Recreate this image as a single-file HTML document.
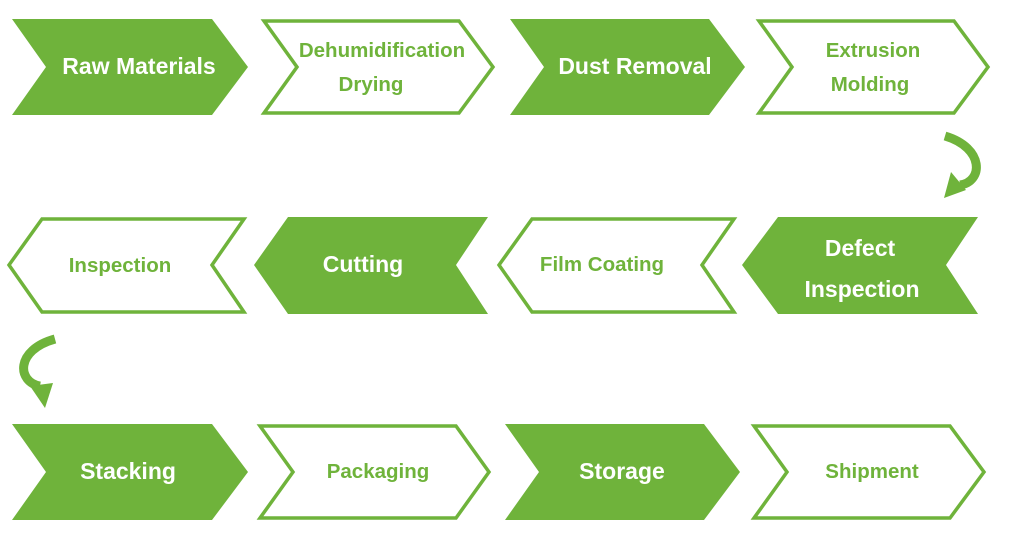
<!DOCTYPE html>
<html><head><style>
html,body{margin:0;padding:0;background:#fff;width:1024px;height:539px;overflow:hidden}
text{font-family:"Liberation Sans",sans-serif;font-weight:bold;text-anchor:middle}
.f{fill:#6fb33b}
.o{fill:#fff;stroke:#6fb33b;stroke-width:3.5}
.tw{fill:#fff;font-size:23px}
.tg{fill:#6fb33b;font-size:20.5px}
</style></head><body>
<svg width="1024" height="539" viewBox="0 0 1024 539" xmlns="http://www.w3.org/2000/svg">
<!-- Row 1 -->
<polygon class="f" points="12,19 212,19 248,67 212,115 12,115 46,67"/>
<polygon class="o" points="264,21 459,21 493,67 459,113 264,113 297,67"/>
<polygon class="f" points="510,19 709,19 745,67 709,115 510,115 544,67"/>
<polygon class="o" points="759,21 954,21 988,67 954,113 759,113 792,67"/>
<text class="tw" x="139" y="74">Raw Materials</text>
<text class="tg" x="382" y="57">Dehumidification</text>
<text class="tg" x="371" y="91">Drying</text>
<text class="tw" x="635" y="74">Dust Removal</text>
<text class="tg" x="873" y="57">Extrusion</text>
<text class="tg" x="870" y="91">Molding</text>
<!-- Row 2 -->
<polygon class="o" points="244,219 42,219 9,265 42,312 244,312 212,265"/>
<polygon class="f" points="488,217 288,217 254,265 288,314 488,314 456,265"/>
<polygon class="o" points="734,219 532,219 499,265 532,312 734,312 702,265"/>
<polygon class="f" points="978,217 778,217 742,265 778,314 978,314 946,265"/>
<text class="tg" x="120" y="272">Inspection</text>
<text class="tw" x="363" y="272">Cutting</text>
<text class="tg" x="602" y="271">Film Coating</text>
<text class="tw" x="860" y="256">Defect</text>
<text class="tw" x="862" y="297">Inspection</text>
<!-- Row 3 -->
<polygon class="f" points="12,424 212,424 248,472 212,520 12,520 46,472"/>
<polygon class="o" points="260,426 456,426 489,472 456,518 260,518 293,472"/>
<polygon class="f" points="505,424 704,424 740,472 704,520 505,520 539,472"/>
<polygon class="o" points="754,426 950,426 984,472 950,518 754,518 787,472"/>
<text class="tw" x="128" y="479">Stacking</text>
<text class="tg" x="378" y="478">Packaging</text>
<text class="tw" x="622" y="479">Storage</text>
<text class="tg" x="872" y="478">Shipment</text>
<!-- Curved arrows -->
<path d="M945,136 C985,148 983,182 960,185" fill="none" stroke="#6fb33b" stroke-width="9"/>
<polygon class="f" points="944,198 951,172 966,190"/>
<path d="M55,339 C15,350 17,382 40,386" fill="none" stroke="#6fb33b" stroke-width="9"/>
<polygon class="f" points="45,408 30,386 53,383"/>
</svg>
</body></html>
